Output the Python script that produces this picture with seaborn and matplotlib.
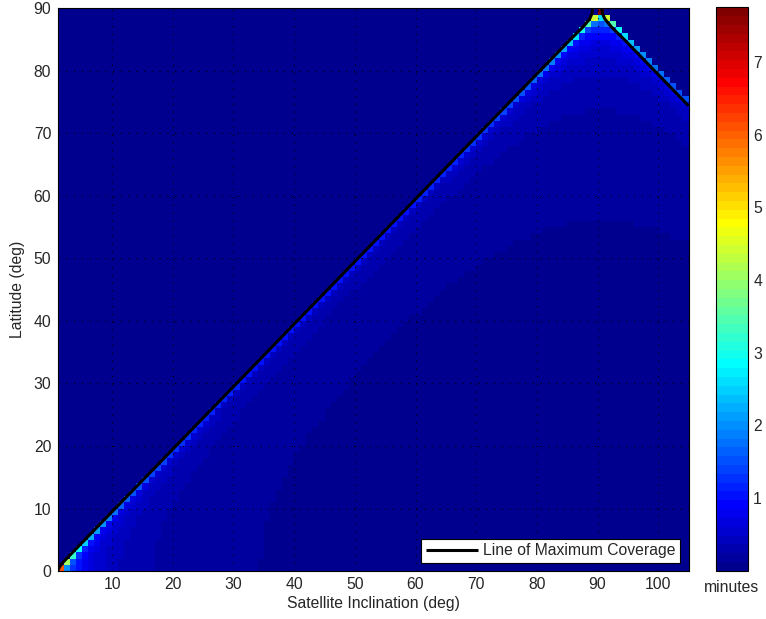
import numpy as np
import pandas as pd
import seaborn as sns
import matplotlib
matplotlib.use("Agg")
import matplotlib.pyplot as plt
from matplotlib.colors import ListedColormap

# ---- data -------------------------------------------------------------
# grid nodes of satellite inclination (deg); each cell spans [i, i+1]
inclination_deg = np.arange(1, 105)
# latitude band edges (deg)
latitude_edges_deg = np.arange(0, 91)
# largest coverage value on the grid (minutes)
peak_minutes = 7.75

# line of maximum coverage (inclination, latitude) in deg
max_line_inc = [1.0, 1.3, 1.8, 85.5, 87.6, 88.7, 89.1, 89.2, np.nan,
                90.7, 90.8, 91.2, 92.3, 94.4, 105.0]
max_line_lat = [0.0, 0.6, 1.3, 85.0, 87.0, 88.3, 89.2, 90.0, np.nan,
                90.0, 89.2, 88.3, 87.0, 85.0, 74.4]

cbar_ticks = [1, 2, 3, 4, 5, 6, 7]
x_ticks = [10, 20, 30, 40, 50, 60, 70, 80, 90, 100]
y_ticks = [0, 10, 20, 30, 40, 50, 60, 70, 80, 90]

# ---- time spent per unit area inside each latitude band ---------------
lo = np.radians(latitude_edges_deg[:-1])[:, None]
hi = np.radians(latitude_edges_deg[1:])[:, None]
s_inc = np.sin(np.radians(inclination_deg))[None, :]
arg_hi = np.arcsin(np.clip(np.sin(hi) / s_inc, -1, 1))
arg_lo = np.arcsin(np.clip(np.sin(lo) / s_inc, -1, 1))
density = (arg_hi - arg_lo) / (np.sin(hi) - np.sin(lo))
minutes = peak_minutes * density / density.max()

grid = pd.DataFrame(minutes,
                    index=latitude_edges_deg[:-1],
                    columns=inclination_deg)


def matlab_jet(m=64):
    n = int(np.ceil(m / 4))
    u = np.concatenate([np.arange(1, n + 1) / n, np.ones(n - 1),
                        np.arange(n, 0, -1) / n])
    g = int(np.ceil(n / 2)) - (1 if m % 4 == 1 else 0) + np.arange(1, len(u) + 1)
    r = g + n
    b = g - n
    J = np.zeros((m, 3))
    J[r[r <= m] - 1, 0] = u[r <= m]
    J[g[g <= m] - 1, 1] = u[g <= m]
    J[b[b >= 1] - 1, 2] = u[b >= 1]
    return ListedColormap(J)


# ---- figure -----------------------------------------------------------
FS = 11.3
sns.set_style("white")
plt.rcParams["font.family"] = ["Liberation Sans", "DejaVu Sans"]
plt.rcParams["font.size"] = FS

fig = plt.figure(figsize=(7.66, 6.19), dpi=100)
ax = fig.add_axes([0.0751, 0.0775, 0.8238, 0.9091])
cax = fig.add_axes([0.9343, 0.0780, 0.0418, 0.9102])

sns.heatmap(grid, ax=ax, cbar_ax=cax, cmap=matlab_jet(64),
            vmin=0, vmax=peak_minutes, xticklabels=False, yticklabels=False,
            linewidths=0, rasterized=True)

x0 = inclination_deg[0]          # heatmap x coordinate = inclination - x0
ax.set_xlim(0, len(inclination_deg))
ax.set_ylim(0, len(latitude_edges_deg) - 1)

ax.plot(np.array(max_line_inc) - x0, max_line_lat, color="black", lw=2.2,
        label="Line of Maximum Coverage", solid_capstyle="butt",
        solid_joinstyle="round", zorder=4)

ax.set_xticks(np.array(x_ticks) - x0)
ax.set_xticklabels([str(t) for t in x_ticks])
ax.set_yticks(y_ticks)
ax.set_yticklabels([str(t) for t in y_ticks])
ax.tick_params(direction="in", length=4, width=0.7, color="black",
               top=True, right=True, bottom=True, left=True,
               labelsize=FS, pad=4.5)
for t in x_ticks:
    ax.axvline(t - x0, color="black", lw=0.8, ls=(0, (1, 6)), zorder=3)
for t in y_ticks:
    ax.axhline(t, color="black", lw=0.8, ls=(0, (1, 6)), zorder=3)
for sp in ax.spines.values():
    sp.set_visible(True)
    sp.set_color("black")
    sp.set_linewidth(0.8)
    sp.set_zorder(5)

ax.set_xlabel("Satellite Inclination (deg)", fontsize=FS)
ax.xaxis.set_label_coords(0.5, -0.044)
ax.set_ylabel("Latitude (deg)", fontsize=FS)
ax.yaxis.set_label_coords(-0.0515, 0.5)

leg = ax.legend(loc="lower right", bbox_to_anchor=(0.986, 0.014),
                fontsize=FS, frameon=True, fancybox=False,
                handlelength=3.3, handletextpad=0.3, borderpad=0.3,
                borderaxespad=0.0)
leg.get_frame().set_edgecolor("black")
leg.get_frame().set_linewidth(0.8)
leg.get_frame().set_alpha(1.0)
leg.set_zorder(6)

cbar = ax.collections[0].colorbar
cbar.set_ticks(cbar_ticks)
cbar.set_ticklabels([str(t) for t in cbar_ticks])
cbar.outline.set_visible(True)
cbar.outline.set_edgecolor("black")
cbar.outline.set_linewidth(0.8)
cax.tick_params(direction="in", length=4, width=0.7, color="black",
                left=True, right=True, labelleft=False, labelright=True,
                labelsize=FS, pad=4)
cax.text(0.5, -0.029, "minutes", transform=cax.transAxes,
         ha="center", va="center", fontsize=FS)

fig.savefig("out.png", dpi=100)
